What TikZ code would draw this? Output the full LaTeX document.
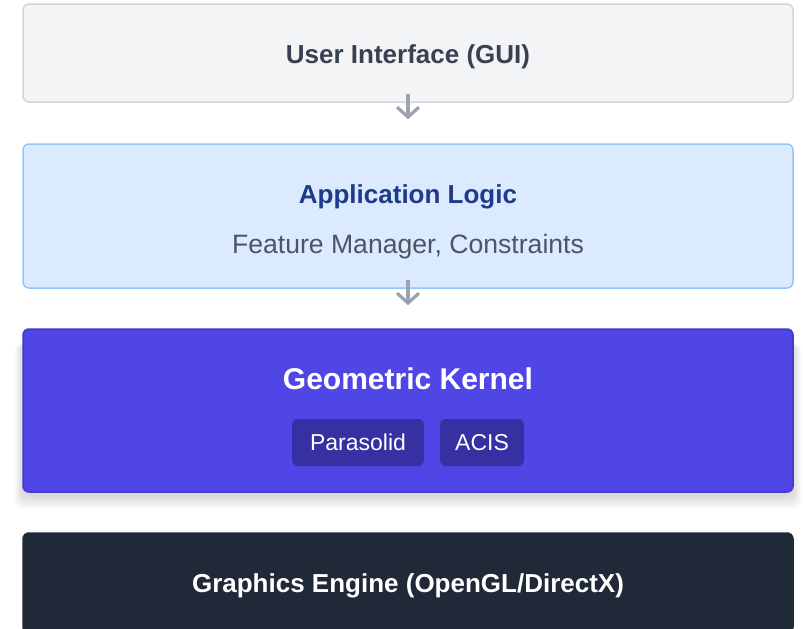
\documentclass[tikz,border=0pt]{standalone}
\usepackage{fontspec}
\setmainfont{Liberation Sans}
\usetikzlibrary{arrows.meta}
\definecolor{uifill}{HTML}{F3F4F6}
\definecolor{uidraw}{HTML}{D1D5DB}
\definecolor{uitext}{HTML}{374151}
\definecolor{appfill}{HTML}{DBEAFE}
\definecolor{appdraw}{HTML}{93C5FD}
\definecolor{apptitle}{HTML}{1E3A8A}
\definecolor{appsub}{HTML}{4B5563}
\definecolor{geofill}{HTML}{4F46E5}
\definecolor{geodraw}{HTML}{4338CA}
\definecolor{chipfill}{HTML}{3730A3}
\definecolor{gfxfill}{HTML}{1F2937}
\definecolor{arrowc}{HTML}{9CA3AF}
\tikzset{
  layer/.style={rectangle, rounded corners=6pt, line width=1.5pt, minimum width=770pt, inner sep=0pt},
  chip/.style={rectangle, rounded corners=6pt, fill=chipfill, text=white, inner sep=0pt, minimum height=47pt, font=\fontsize{23}{26}\selectfont},
  arr/.style={draw=arrowc, line width=3.2pt, -{Straight Barb[length=10pt,width=22pt]}},
  titlefont/.style={font=\fontsize{26}{30}\selectfont\bfseries, anchor=base, inner sep=0pt},
  shadowpart/.style={fill=black, opacity=0.018, rounded corners=8pt},
}
\begin{document}
\begin{tikzpicture}[x=1pt,y=-1pt]
\useasboundingbox (0,0) rectangle (803,629);
\fill[white] (0,0) rectangle (803,629);
% soft shadow under the geometric kernel box
\foreach \i in {0,2,...,14} {
  \fill[shadowpart] (23-\i*0.6, 340+\i*0.3) rectangle (793+\i*0.6, 496+\i*0.9);
}
% boxes
\node[layer, fill=uifill, draw=uidraw, minimum height=98pt] (ui) at (408,53) {};
\node[titlefont, text=uitext] (uit) at (408,63) {User Interface (GUI)};
\node[layer, fill=appfill, draw=appdraw, minimum height=144pt] (app) at (408,216) {};
\node[titlefont, text=apptitle] (appt) at (408,203) {Application Logic};
\node[text=appsub, font=\fontsize{26.6}{30}\selectfont, anchor=base, inner sep=0pt] (apps) at (408,253) {Feature Manager, Constraints};
\node[layer, fill=geofill, draw=geodraw, minimum height=163pt] (geo) at (408,410.5) {};
\node[text=white, font=\fontsize{30}{34}\selectfont\bfseries, anchor=base, inner sep=0pt] (geot) at (408,389) {Geometric Kernel};
\node[chip, minimum width=132pt] (para) at (358,442.5) {Parasolid};
\node[chip, minimum width=84pt] (acis) at (482,442.5) {ACIS};
\node[layer, fill=gfxfill, draw=gfxfill, minimum height=100pt] (gfx) at (408,583) {};
\node[titlefont, text=white] (gfxt) at (408,592) {Graphics Engine (OpenGL/DirectX)};
% arrows
\draw[arr] ([yshift=9pt]ui.south) -- ([yshift=24pt]app.north);
\draw[arr] ([yshift=9pt]app.south) -- ([yshift=23pt]geo.north);
\end{tikzpicture}
\end{document}
